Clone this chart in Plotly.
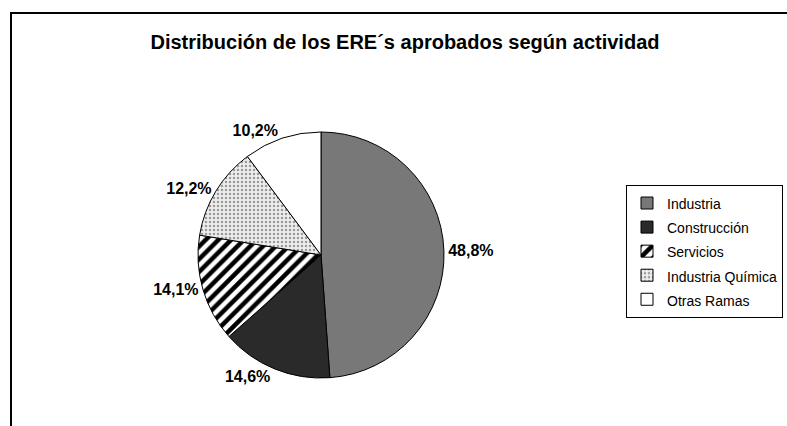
import plotly.graph_objects as go

categories = ["Industria", "Construcción", "Servicios", "Industria Química", "Otras Ramas"]
values = [48.8, 14.6, 14.1, 12.2, 10.2]
value_labels = ["48,8%", "14,6%", "14,1%", "12,2%", "10,2%"]
title_text = "Distribución de los ERE´s aprobados según actividad"

W, H = 787, 426
cx, cy, r = 321, 255, 123

legend_labels = ['<span style="font-size:14px">%s</span>' % c for c in categories]

fill_colors = ["#787878", "#2a2a2a", "white", "#eeeeee", "white"]

fig = go.Figure(go.Pie(
    labels=legend_labels,
    values=values,
    text=value_labels,
    textinfo="text",
    textposition="outside",
    outsidetextfont=dict(family="Arial, Liberation Sans, sans-serif", size=16, color="black", weight="bold"),
    sort=False,
    direction="clockwise",
    rotation=0,
    hoverinfo="label+text",
    marker=dict(
        colors=fill_colors,
        line=dict(color="black", width=1),
        pattern=dict(
            shape=["", "", "/", ".", ""],
            fgcolor=["black", "black", "black", "#9a9a9a", "black"],
            bgcolor=fill_colors,
            size=[8, 8, 9, 4, 8],
            solidity=[0.3, 0.3, 0.5, 0.3, 0.3],
        ),
    ),
    domain=dict(
        x=[(cx - r) / W, (cx + r) / W],
        y=[1 - (cy + r) / H, 1 - (cy - r) / H],
    ),
    showlegend=True,
))

fig.update_layout(
    width=W, height=H,
    margin=dict(l=0, r=0, t=0, b=0, autoexpand=False),
    paper_bgcolor="white",
    plot_bgcolor="white",
    font=dict(family="Arial, Liberation Sans, sans-serif", color="black"),
    title=dict(
        text="<b>" + title_text + "</b>",
        x=405 / W, xanchor="center",
        y=1 - 42 / H, yanchor="middle",
        font=dict(size=20, color="black"),
    ),
    legend=dict(
        x=626 / W, xanchor="left",
        y=1 - 185 / H, yanchor="top",
        bordercolor="black", borderwidth=1,
        bgcolor="white",
        font=dict(size=16.2, color="black"),
        itemclick=False,
    ),
    shapes=[dict(
        type="rect", xref="paper", yref="paper",
        x0=11 / W, x1=1.02, y0=-0.05, y1=1 - 13 / H,
        line=dict(color="black", width=2),
        fillcolor="rgba(0,0,0,0)",
        layer="below",
    )],
)

fig.write_html(
    "out.html",
    config={"displayModeBar": False},
    post_script="document.body.style.margin='0';document.body.style.overflow='hidden';",
)
